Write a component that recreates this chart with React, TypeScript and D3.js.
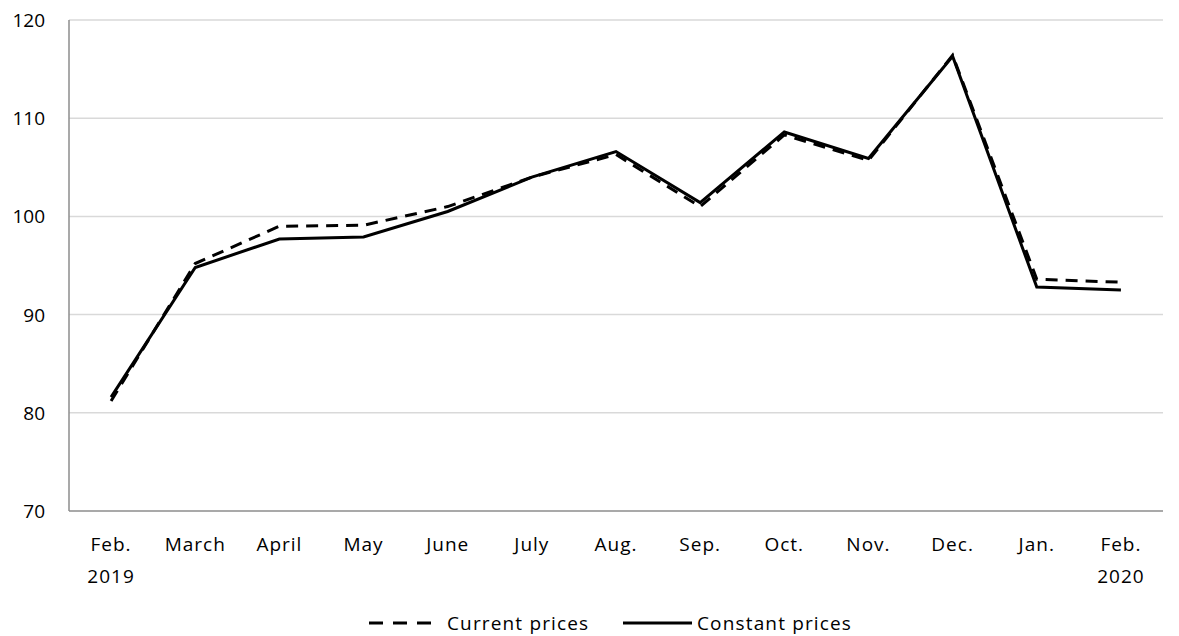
import React, { useEffect, useRef } from 'react';
import * as d3 from 'd3';

const months = ['Feb.|2019', 'March', 'April', 'May', 'June', 'July', 'Aug.', 'Sep.', 'Oct.', 'Nov.', 'Dec.', 'Jan.', 'Feb.|2020'];
const currentPrices = [81.2, 95.2, 99.0, 99.1, 101.0, 104.0, 106.3, 101.0, 108.3, 105.7, 116.4, 93.6, 93.3];
const constantPrices = [81.6, 94.8, 97.7, 97.9, 100.5, 104.0, 106.6, 101.4, 108.6, 105.9, 116.3, 92.8, 92.5];
const yTicks = [70, 80, 90, 100, 110, 120];

const W = 1179, H = 636;
const FONT = '"Open Sans", "Noto Sans", sans-serif';

export default function App() {
	const ref = useRef<SVGSVGElement>(null);

	useEffect(() => {
		const svg = d3.select(ref.current);
		svg.selectAll('*').remove();

		const left = 69, right = 1163, top = 20, bottom = 511;

		const x = d3.scaleBand<string>().domain(months).range([left, right]);
		const y = d3.scaleLinear().domain([70, 120]).range([bottom, top]);
		const cx = (i: number) => (x(months[i]) as number) + x.bandwidth() / 2;

		// gridlines
		svg.append('g').selectAll('line')
			.data(yTicks.slice(1))
			.enter().append('line')
			.attr('x1', left).attr('x2', right)
			.attr('y1', d => y(d)).attr('y2', d => y(d))
			.attr('stroke', '#d9d9d9').attr('stroke-width', 1.5);

		// axes lines
		svg.append('line').attr('x1', left).attr('x2', left).attr('y1', top).attr('y2', bottom)
			.attr('stroke', '#8c8c8c').attr('stroke-width', 1.5);
		svg.append('line').attr('x1', left).attr('x2', right).attr('y1', bottom).attr('y2', bottom)
			.attr('stroke', '#8c8c8c').attr('stroke-width', 1.5);

		// y labels
		svg.append('g').selectAll('text')
			.data(yTicks)
			.enter().append('text')
			.attr('x', 45).attr('y', d => y(d) + 7)
			.attr('text-anchor', 'end')
			.attr('font-family', FONT).attr('font-size', 19).attr('fill', '#000')
			.text(d => d);

		// x labels
		const xl = svg.append('g').selectAll('text')
			.data(months)
			.enter().append('text')
			.attr('text-anchor', 'middle')
			.attr('font-family', FONT).attr('font-size', 19).attr('letter-spacing', 1)
			.attr('fill', '#000');
		xl.each(function (d, i) {
			const parts = d.split('|');
			parts.forEach((p, j) => {
				d3.select(this).append('tspan')
					.attr('x', cx(i)).attr('y', 551 + j * 32)
					.text(p);
			});
		});

		const line = d3.line<number>().x((d, i) => cx(i)).y(d => y(d));

		svg.append('path').datum(currentPrices)
			.attr('d', line).attr('fill', 'none')
			.attr('stroke', '#000').attr('stroke-width', 3)
			.attr('stroke-dasharray', '12,8');

		svg.append('path').datum(constantPrices)
			.attr('d', line).attr('fill', 'none')
			.attr('stroke', '#000').attr('stroke-width', 3);

		// legend
		const ly = 623;
		const lg = svg.append('g');
		lg.append('line').attr('x1', 369).attr('x2', 441).attr('y1', ly).attr('y2', ly)
			.attr('stroke', '#000').attr('stroke-width', 3).attr('stroke-dasharray', '14,10');
		lg.append('text').attr('x', 447).attr('y', ly + 7)
			.attr('font-family', FONT).attr('font-size', 19).attr('letter-spacing', 1.15).text('Current prices');
		lg.append('line').attr('x1', 623).attr('x2', 692).attr('y1', ly).attr('y2', ly)
			.attr('stroke', '#000').attr('stroke-width', 3);
		lg.append('text').attr('x', 697).attr('y', ly + 7)
			.attr('font-family', FONT).attr('font-size', 19).attr('letter-spacing', 1.15).text('Constant prices');
	}, []);

	return (
		<svg ref={ref} width={W} height={H} style={{ position: 'absolute', left: 0, top: 0, background: '#fff' }} />
	);
}
